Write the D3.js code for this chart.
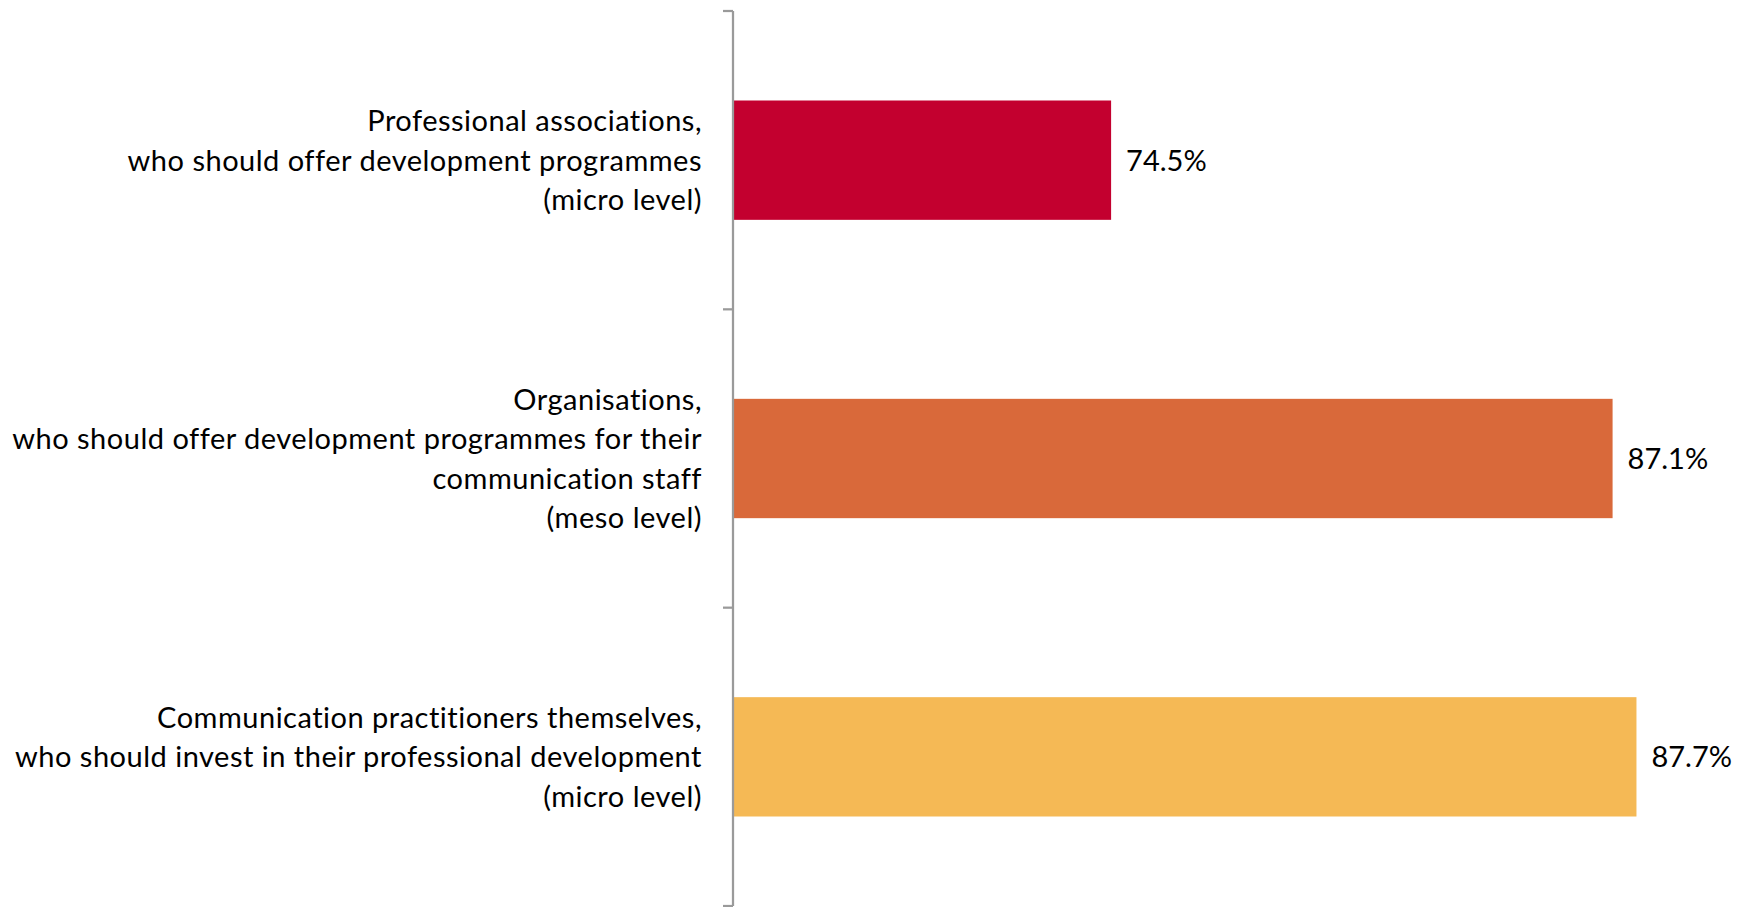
<!DOCTYPE html>
<html>
<head>
<meta charset="utf-8">
<script src="https://cdn.jsdelivr.net/npm/d3@7"></script>
<style>
  html, body { margin: 0; padding: 0; background: #fff; }
  svg { display: block; }
  text { font-family: Lato, "Open Sans", sans-serif; fill: #000; }
</style>
</head>
<body>
<script>
// Who is responsible for professional development — share of respondents
const categories = [
  ["Professional associations,", "who should offer development programmes", "(micro level)"],
  ["Organisations,", "who should offer development programmes for their", "communication staff", "(meso level)"],
  ["Communication practitioners themselves,", "who should invest in their professional development", "(micro level)"]
];
const values = [74.5, 87.1, 87.7];
const colors = ["#C3002F", "#D9693A", "#F5B955"];
const xDomain = [65, 90];

const W = 1747, H = 907;
const axisX = 733, plotTop = 11, plotBottom = 906, plotRight = 1728;

const svg = d3.select("body").append("svg")
  .attr("width", W).attr("height", H);

const ids = categories.map((c, i) => i);

const y = d3.scaleBand()
  .domain(ids)
  .range([plotTop, plotBottom])
  .paddingInner(0.6)
  .paddingOuter(0.3);

const x = d3.scaleLinear()
  .domain(xDomain)
  .range([axisX, plotRight]);

// bars
svg.selectAll("rect.bar")
  .data(values)
  .join("rect")
  .attr("class", "bar")
  .attr("x", x(xDomain[0]))
  .attr("y", (d, i) => y(i))
  .attr("width", d => x(d) - x(xDomain[0]))
  .attr("height", y.bandwidth())
  .attr("fill", (d, i) => colors[i]);

// value labels
svg.selectAll("text.val")
  .data(values)
  .join("text")
  .attr("class", "val")
  .attr("x", d => x(d) + 15)
  .attr("y", (d, i) => y(i) + y.bandwidth() / 2)
  .attr("dy", "0.36em")
  .attr("font-size", 29)
  .text(d => d.toFixed(1) + "%");

// category axis: line with ticks at category boundaries
const axis = svg.append("g");
axis.append("line")
  .attr("x1", axisX).attr("x2", axisX)
  .attr("y1", plotTop).attr("y2", plotBottom)
  .attr("stroke", "#9a9a9a").attr("stroke-width", 2.25);

const step = y.step();
const boundaries = d3.range(ids.length + 1).map(k => plotTop + k * step);
axis.selectAll("line.tick")
  .data(boundaries)
  .join("line")
  .attr("class", "tick")
  .attr("x1", axisX - 10).attr("x2", axisX)
  .attr("y1", d => d).attr("y2", d => d)
  .attr("stroke", "#9a9a9a").attr("stroke-width", 2.25);

// category labels, right-aligned, multi-line
const lineH = 39.5;
const labels = svg.selectAll("text.cat")
  .data(categories)
  .join("text")
  .attr("class", "cat")
  .attr("text-anchor", "end")
  .attr("font-size", 29)
  .attr("letter-spacing", 0.5);

labels.each(function(lines, i) {
  const cy = y(i) + y.bandwidth() / 2;
  const y0 = cy - (lines.length - 1) * lineH / 2;
  d3.select(this).selectAll("tspan")
    .data(lines)
    .join("tspan")
    .attr("x", axisX - 31)
    .attr("y", (d, k) => y0 + k * lineH)
    .attr("dy", "0.36em")
    .text(d => d);
});
</script>
</body>
</html>
